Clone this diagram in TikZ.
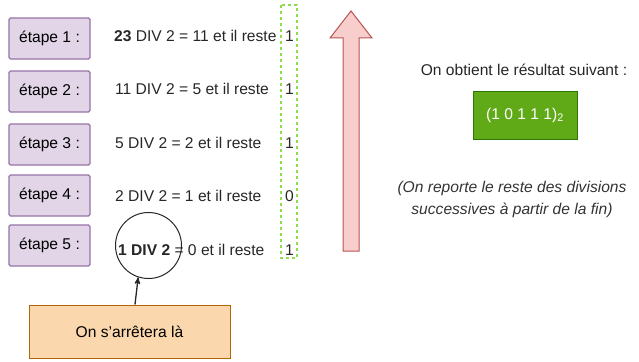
\documentclass[tikz,border=0pt]{standalone}
\usepackage{fontspec}
\setmainfont{Liberation Sans}
\usepackage{xcolor}
\usetikzlibrary{arrows,calc,positioning}
\definecolor{stepfill}{HTML}{E1D5E7}
\definecolor{stepline}{HTML}{9673A6}
\definecolor{warnfill}{HTML}{FAD7AC}
\definecolor{warnline}{HTML}{B46504}
\definecolor{resfill}{HTML}{60A917}
\definecolor{resline}{HTML}{2D7600}
\definecolor{upfill}{HTML}{F8CECC}
\definecolor{upline}{HTML}{B85450}
\definecolor{restline}{HTML}{8EDD4E}
\newcommand{\divfont}{\fontsize{15.6}{22}\selectfont}

\begin{document}
\begin{tikzpicture}[
    x=1pt, y=-1pt,
    font=\divfont,
    nosep/.style={inner sep=0},
    stepbox/.style={rectangle, draw=stepline, fill=stepfill, line width=1.3pt,
        rounded corners=1.5pt, minimum width=81pt, minimum height=41pt},
    divline/.style={nosep, anchor=west, text=black!85},
    restval/.style={nosep, text=black!85},
    warnbox/.style={rectangle, draw=warnline, fill=warnfill, line width=1pt,
        minimum width=201pt, minimum height=53pt},
    resbox/.style={rectangle, draw=resline, fill=resfill, line width=1pt,
        minimum width=104pt, minimum height=48pt, text=white}]
\useasboundingbox (0,0) rectangle (639,361);

\foreach \i/\by/\ty/\tx/\txt/\r in {
    1/38.5/36/114/{\textbf{23} DIV 2 = 11 et il reste}/1,
    2/91.5/89/115/{11 DIV 2 = 5 et il reste}/1,
    3/144.5/143/115/{5 DIV 2 = 2 et il reste}/1,
    4/195.5/196/115/{2 DIV 2 = 1 et il reste}/0,
    5/245.5/250/118/{\textbf{1 DIV 2} = 0 et il reste}/1}{
  \node[stepbox] (step\i) at (49.5,\by) {étape \i\ :};
  \node[divline] (div\i) at (\tx,\ty) {\txt};
  \node[restval] (rest\i) at (289.5,\ty) {\r};
}

\draw[restline, line width=1.5pt, dash pattern=on 3pt off 3pt] (281,5) rectangle (297,258);

\node[circle, draw=black!85, line width=1pt, minimum size=66pt] (stop) at (148.5,245.5) {};
\node[warnbox] (warn) at (129.5,331.5) {On s\char"27 arrêtera là};
\draw[->, >=stealth', line width=1.3pt, black!85] ([xshift=5.5pt]warn.north) -- (stop.-108);

\filldraw[fill=upfill, draw=upline, line width=1pt]
    (343,251) -- (343,38) -- (330,38) -- (351,11) -- (372,38) -- (359,38) -- (359,251) -- cycle;

\node[nosep, text=black!85] (result) at (524,70) {On obtient le résultat suivant :};
\node[resbox] (binary) at (525,115) {(1 0 1 1 1)\textsubscript{2}};
\node[nosep, align=center, text=black!80, font=\divfont\itshape] (note) at (512,199)
    {(On reporte le reste des divisions\\successives à partir de la fin)};

\end{tikzpicture}
\end{document}
